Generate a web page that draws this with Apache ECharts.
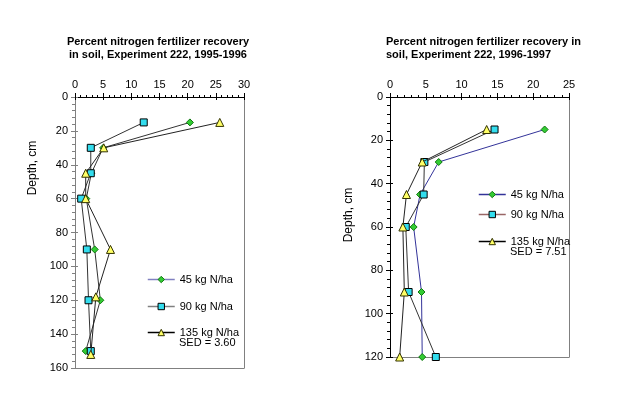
<!DOCTYPE html>
<html>
<head>
<meta charset="utf-8">
<script src="https://cdn.jsdelivr.net/npm/echarts@6/dist/echarts.min.js"></script>
<style>
html,body{margin:0;padding:0;background:#fff;}
#c{width:625px;height:396px;}
</style>
</head>
<body>
<div id="c"></div>
<script>
// ---------- data ----------
const seriesNames = ['45 kg N/ha', '90 kg N/ha', '135 kg N/ha'];

// Experiment 222, 1995-1996 (left panel)
const leftDepth45  = [15, 30, 45, 60, 90, 120, 150];
const leftVal45    = [20.4, 5.0, 2.9, 2.0, 3.5, 4.5, 1.9];
const leftDepth90  = [15, 30, 45, 60, 90, 120, 150];
const leftVal90    = [12.2, 2.8, 2.8, 1.1, 2.1, 2.4, 2.8];
const leftDepth135 = [15, 30, 45, 60, 90, 118, 152];
const leftVal135   = [25.7, 5.1, 1.9, 1.9, 6.3, 3.7, 2.8];
const leftSED = 'SED = 3.60';

// Experiment 222, 1996-1997 (right panel)
const rightDepth   = [15, 30, 45, 60, 90, 120];
const rightVal45   = [21.6, 6.8, 4.2, 3.3, 4.4, 4.5];
const rightVal90   = [14.6, 4.8, 4.7, 2.2, 2.6, 6.4];
const rightVal135  = [13.5, 4.5, 2.3, 1.8, 2.0, 1.35];
const rightSED = 'SED = 7.51';

const leftTitle  = 'Percent nitrogen fertilizer recovery\nin soil, Experiment 222, 1995-1996';
const rightTitle = 'Percent nitrogen fertilizer recovery in\nsoil, Experiment 222, 1996-1997';
const yName = 'Depth, cm';

const pairs = (vals, depths) => vals.map((v, i) => [v, depths[i]]);

// ---------- styles ----------
const FONT = 'Liberation Sans, Arial, sans-serif';
const markers = [
  {symbol: 'diamond', size: 7, color: '#33cc33', border: '#117711'},
  {symbol: 'rect', size: 7, color: '#33ddee', border: '#000000'},
  {symbol: 'triangle', size: 8, color: '#ffff66', border: '#333300'}
];

function mainX(grid, max, lineColor) {
  return {
    gridIndex: grid, type: 'value', position: 'top', min: 0, max: max, interval: 5,
    axisLine: {show: true, onZero: false, lineStyle: {color: lineColor, width: 1}},
    axisTick: {show: true, length: 4, lineStyle: {color: lineColor}},
    minorTick: {show: true, splitNumber: 5, length: 2, lineStyle: {color: lineColor}},
    axisLabel: {color: '#000', fontFamily: FONT, fontSize: 11, margin: 7},
    splitLine: {show: false}
  };
}
function crossX(grid, max, lineColor) {
  return {
    gridIndex: grid, type: 'value', position: 'top', min: 0, max: max, interval: 5,
    axisLine: {show: false}, axisLabel: {show: false}, splitLine: {show: false},
    axisTick: {show: true, inside: true, length: 3, lineStyle: {color: lineColor}}
  };
}
function borderX(grid, max) {
  return {
    gridIndex: grid, type: 'value', position: 'bottom', min: 0, max: max,
    axisLine: {show: true, onZero: false, lineStyle: {color: '#808080'}},
    axisTick: {show: false}, axisLabel: {show: false}, splitLine: {show: false}
  };
}
function mainY(grid, max, lineColor) {
  return {
    gridIndex: grid, type: 'value', position: 'left', inverse: true, min: 0, max: max, interval: 20,
    axisLine: {show: true, onZero: false, lineStyle: {color: lineColor, width: 1}},
    axisTick: {show: true, length: 4, lineStyle: {color: lineColor}},
    minorTick: {show: true, splitNumber: 5, length: 3, lineStyle: {color: lineColor}},
    axisLabel: {color: '#000', fontFamily: FONT, fontSize: 11, margin: 7},
    splitLine: {show: false}
  };
}
function crossY(grid, max, lineColor) {
  return {
    gridIndex: grid, type: 'value', position: 'left', inverse: true, min: 0, max: max, interval: 20,
    axisLine: {show: false}, axisLabel: {show: false}, splitLine: {show: false},
    axisTick: {show: true, inside: true, length: 3, lineStyle: {color: lineColor}}
  };
}
function borderY(grid, max) {
  return {
    gridIndex: grid, type: 'value', position: 'right', inverse: true, min: 0, max: max,
    axisLine: {show: true, onZero: false, lineStyle: {color: '#808080'}},
    axisTick: {show: false}, axisLabel: {show: false}, splitLine: {show: false}
  };
}

function mkSeries(idx, xi, yi, data, lineColor) {
  const m = markers[idx];
  return {
    name: seriesNames[idx], type: 'line', xAxisIndex: xi, yAxisIndex: yi,
    data: data, symbol: m.symbol, symbolSize: m.size, showSymbol: true,
    lineStyle: {color: lineColor, width: 1},
    itemStyle: {color: m.color, borderColor: m.border, borderWidth: 1},
    animation: false, z: 3 + idx
  };
}

function mkLegend(idx, left, centerY, lineColor) {
  const m = markers[idx];
  return {
    left: left, top: centerY - 4, padding: 0, itemWidth: 27, itemHeight: 8,
    selectedMode: false, orient: 'horizontal',
    textStyle: {color: '#000', fontFamily: FONT, fontSize: 11},
    data: [{name: seriesNames[idx], lineStyle: {color: lineColor, width: 1.5},
            itemStyle: {color: m.color, borderColor: m.border, borderWidth: 1}}]
  };
}

const chart = echarts.init(document.getElementById('c'), null, {renderer: 'canvas'});
chart.setOption({
  backgroundColor: '#ffffff',
  animation: false,
  grid: [
    {left: 75, top: 97, width: 169, height: 271},
    {left: 390, top: 97, width: 179, height: 260}
  ],
  xAxis: [
    mainX(0, 30, '#000'), borderX(0, 30), crossX(0, 30, '#000'),
    mainX(1, 25, '#000'), borderX(1, 25), crossX(1, 25, '#000')
  ],
  yAxis: [
    mainY(0, 160, '#808080'), borderY(0, 160), crossY(0, 160, '#808080'),
    mainY(1, 120, '#000'), borderY(1, 120), crossY(1, 120, '#000')
  ],
  legend: [
    mkLegend(0, 147, 278, '#8080c0'),
    mkLegend(1, 147, 305, '#808080'),
    mkLegend(2, 147, 331, '#000000'),
    mkLegend(0, 478, 193, '#333399'),
    mkLegend(1, 478, 213, '#996666'),
    mkLegend(2, 478, 240, '#000000')
  ],
  series: [
    mkSeries(0, 0, 0, pairs(leftVal45, leftDepth45), '#333333'),
    mkSeries(1, 0, 0, pairs(leftVal90, leftDepth90), '#333333'),
    mkSeries(2, 0, 0, pairs(leftVal135, leftDepth135), '#222222'),
    mkSeries(0, 3, 3, pairs(rightVal45, rightDepth), '#333399'),
    mkSeries(1, 3, 3, pairs(rightVal90, rightDepth), '#333333'),
    mkSeries(2, 3, 3, pairs(rightVal135, rightDepth), '#222222')
  ],
  graphic: [
    {type: 'text', x: 158, y: 35, style: {text: leftTitle, fontFamily: FONT, fontSize: 11, fontWeight: 'bold',
      textAlign: 'center', lineHeight: 13, fill: '#000'}},
    {type: 'text', x: 386, y: 35, style: {text: rightTitle, fontFamily: FONT, fontSize: 11, fontWeight: 'bold',
      textAlign: 'left', lineHeight: 13, fill: '#000'}},
    {type: 'text', x: 33, y: 168, rotation: Math.PI / 2, style: {text: yName, fontFamily: FONT, fontSize: 12,
      textAlign: 'center', textVerticalAlign: 'middle', fill: '#000'}},
    {type: 'text', x: 349, y: 215, rotation: Math.PI / 2, style: {text: yName, fontFamily: FONT, fontSize: 12,
      textAlign: 'center', textVerticalAlign: 'middle', fill: '#000'}},
    {type: 'text', x: 179, y: 343, style: {text: leftSED, fontFamily: FONT, fontSize: 11,
      textVerticalAlign: 'middle', fill: '#000'}},
    {type: 'text', x: 510, y: 252, style: {text: rightSED, fontFamily: FONT, fontSize: 11,
      textVerticalAlign: 'middle', fill: '#000'}}
  ]
});
</script>
</body>
</html>
